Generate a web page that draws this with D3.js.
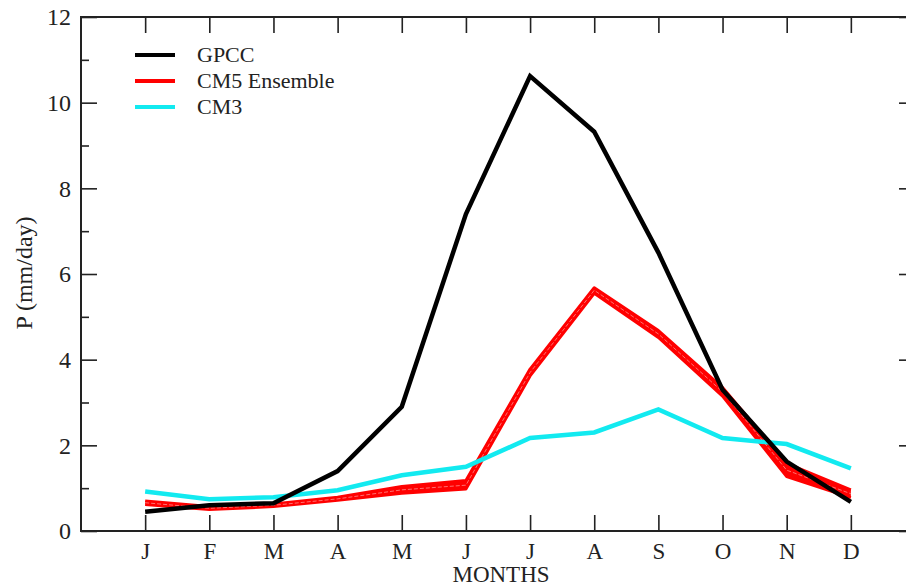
<!DOCTYPE html>
<html>
<head>
<meta charset="utf-8">
<script src="https://cdn.jsdelivr.net/npm/d3@7"></script>
<style>
  body { margin: 0; background: #fff; }
</style>
</head>
<body>
<div id="chart"></div>
<script>
// monthly precipitation climatology
const months = ['J', 'F', 'M', 'A', 'M', 'J', 'J', 'A', 'S', 'O', 'N', 'D'];
const gpcc = [0.45, 0.6, 0.65, 1.4, 2.9, 7.4, 10.62, 9.32, 6.5, 3.3, 1.62, 0.68];
const cm5Low = [0.62, 0.5, 0.57, 0.72, 0.88, 0.98, 3.62, 5.55, 4.52, 3.15, 1.27, 0.78];
const cm5Mid = [0.66, 0.53, 0.6, 0.75, 0.96, 1.07, 3.7, 5.62, 4.6, 3.25, 1.42, 0.87];
const cm5High = [0.7, 0.57, 0.63, 0.79, 1.04, 1.18, 3.78, 5.68, 4.68, 3.35, 1.58, 0.96];
const cm3 = [0.92, 0.74, 0.79, 0.95, 1.3, 1.5, 2.17, 2.3, 2.84, 2.17, 2.03, 1.46];
const yTicks = [0, 2, 4, 6, 8, 10, 12];
const yMinor = [1, 3, 5, 7, 9, 11];
const legendItems = [
  { name: 'GPCC', color: '#000000' },
  { name: 'CM5 Ensemble', color: '#ff0000' },
  { name: 'CM3', color: '#12eaf0' }
];

const FONT = 'Liberation Serif';
const width = 906;
const height = 587;
const plotLeft = 81, plotRight = 915, plotTop = 17, plotBottom = 531;

const svg = d3.select('#chart').append('svg')
  .attr('width', width)
  .attr('height', height)
  .attr('font-family', FONT);

const x = d3.scaleLinear().domain([0, 13]).range([plotLeft, plotRight]);
const y = d3.scaleLinear().domain([0, 12]).range([plotBottom, plotTop]);
const idx = d3.range(1, 13);

// frame
svg.append('rect')
  .attr('x', plotLeft).attr('y', plotTop)
  .attr('width', plotRight - plotLeft).attr('height', plotBottom - plotTop)
  .attr('fill', 'none').attr('stroke', '#222').attr('stroke-width', 2);

function styleAxis(g) {
  g.attr('font-family', FONT);
  g.select('.domain').remove();
  g.selectAll('line').attr('stroke', '#222').attr('stroke-width', 1.6);
  g.selectAll('text').attr('fill', '#222').attr('font-family', FONT);
}

// y axis left
svg.append('g').attr('transform', 'translate(' + plotLeft + ',0)')
  .call(d3.axisLeft(y).tickValues(yTicks).tickSize(-16).tickPadding(10))
  .call(styleAxis)
  .selectAll('text').attr('font-size', 24);
svg.append('g').attr('transform', 'translate(' + plotLeft + ',0)')
  .call(d3.axisLeft(y).tickValues(yMinor).tickSize(-8).tickFormat(''))
  .call(styleAxis);
// y axis right
svg.append('g').attr('transform', 'translate(' + plotRight + ',0)')
  .call(d3.axisRight(y).tickValues(yTicks).tickSize(-16).tickFormat(''))
  .call(styleAxis);
svg.append('g').attr('transform', 'translate(' + plotRight + ',0)')
  .call(d3.axisRight(y).tickValues(yMinor).tickSize(-8).tickFormat(''))
  .call(styleAxis);

// x axes
svg.append('g').attr('transform', 'translate(0,' + plotBottom + ')')
  .call(d3.axisBottom(x).tickValues(idx).tickSize(-16).tickPadding(12)
    .tickFormat((d) => months[d - 1]))
  .call(styleAxis)
  .selectAll('text').attr('font-size', 23);
svg.append('g').attr('transform', 'translate(0,' + plotTop + ')')
  .call(d3.axisTop(x).tickValues(idx).tickSize(-16).tickFormat(''))
  .call(styleAxis);

// axis titles
svg.append('text')
  .attr('x', 501).attr('y', 582)
  .attr('text-anchor', 'middle')
  .attr('fill', '#222')
  .attr('font-size', 23)
  .text('MONTHS');
svg.append('text')
  .attr('transform', 'translate(32,273) rotate(-90)')
  .attr('text-anchor', 'middle')
  .attr('fill', '#222')
  .attr('font-size', 24)
  .text('P (mm/day)');

const line = d3.line()
  .x((d, i) => x(i + 1))
  .y((d) => y(d));

// CM5 ensemble spread
const area = d3.area()
  .x((d, i) => x(i + 1))
  .y0((d, i) => y(cm5Low[i]))
  .y1((d, i) => y(cm5High[i]));
svg.append('path').datum(cm5Mid)
  .attr('d', area)
  .attr('fill', '#ff0000');
[cm5Low, cm5High].forEach(function (s) {
  svg.append('path').datum(s)
    .attr('d', line)
    .attr('fill', 'none')
    .attr('stroke', '#ff0000')
    .attr('stroke-width', 3)
    .attr('stroke-linejoin', 'round');
});
svg.append('path').datum(cm5Mid)
  .attr('d', line)
  .attr('fill', 'none')
  .attr('stroke', '#fff')
  .attr('stroke-opacity', 0.55)
  .attr('stroke-width', 0.8)
  .attr('stroke-dasharray', '4,2');

// CM3
svg.append('path').datum(cm3)
  .attr('d', line)
  .attr('fill', 'none')
  .attr('stroke', '#12eaf0')
  .attr('stroke-width', 4.5);

// GPCC
svg.append('path').datum(gpcc)
  .attr('d', line)
  .attr('fill', 'none')
  .attr('stroke', '#000')
  .attr('stroke-width', 4.5);

// legend
const legend = svg.append('g');
legendItems.forEach(function (d, i) {
  const ly = 55 + i * 26;
  legend.append('line')
    .attr('x1', 135).attr('x2', 175)
    .attr('y1', ly).attr('y2', ly)
    .attr('stroke', d.color)
    .attr('stroke-width', 4);
  legend.append('text')
    .attr('x', 197).attr('y', ly + 7)
    .attr('fill', '#222')
    .attr('font-size', 22)
    .text(d.name);
});
</script>
</body>
</html>
